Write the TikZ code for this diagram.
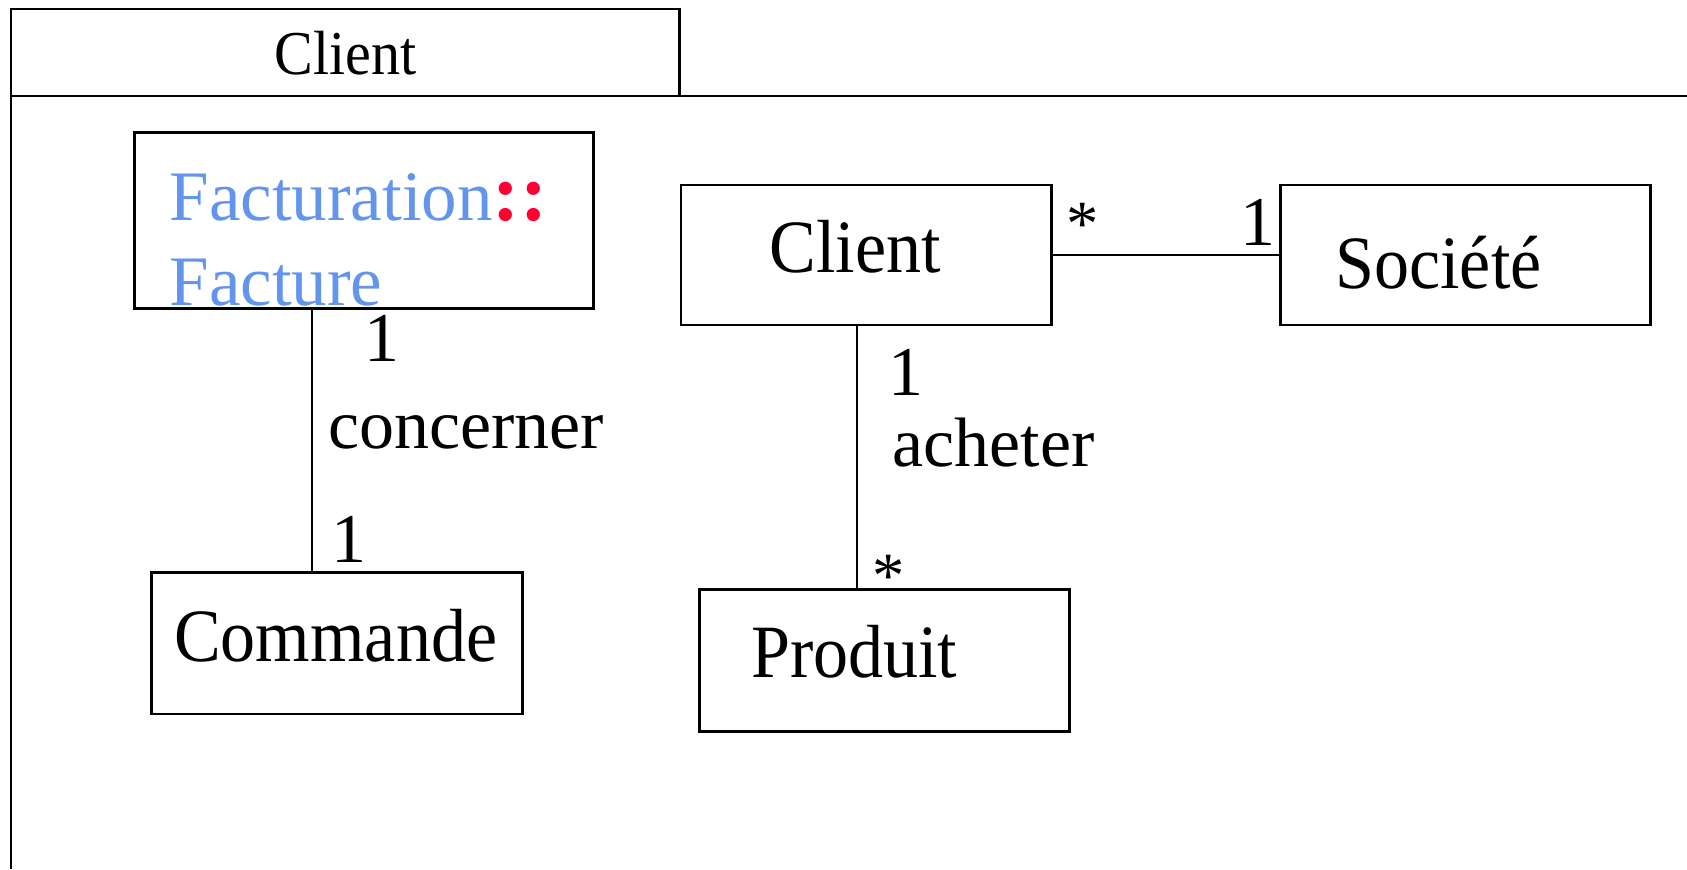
\documentclass[tikz,border=0pt]{standalone}
\usepackage{fontspec}
\setmainfont{Liberation Serif}
\newfontfamily\condfont[FakeStretch=0.93]{Liberation Serif}
\definecolor{factblue}{RGB}{100,149,237}
\definecolor{factred}{RGB}{255,0,51}
\begin{document}
\begin{tikzpicture}[x=1pt,y=-1pt,
  box/.style={draw=black,line width=2.6pt,rectangle,inner sep=0pt,outer sep=0pt},
  assoc/.style={draw=black,line width=1.8pt},
  pkg/.style={draw=black,line width=2.2pt},
  txt/.style={inner sep=0pt,outer sep=0pt,anchor=base west},
  boxname/.style={inner sep=0pt,outer sep=0pt,anchor=base,font=\condfont\fontsize{70}{84}\selectfont},
  mult/.style={inner sep=0pt,outer sep=0pt,anchor=base west,font=\fontsize{65}{78}\selectfont},
  star/.style={inner sep=0pt,outer sep=0pt,anchor=base west,font=\fontsize{60}{72}\selectfont}]
\useasboundingbox (0,0) rectangle (1568,808);
% package
\draw[pkg] (10.4,808) -- (10.4,89) -- (1568,89);
\node[box,line width=2.2pt,minimum width=621pt,minimum height=80.6pt] (tab) at (321,48.7) {};
\node[inner sep=0pt,anchor=base,font=\condfont\fontsize{58}{70}\selectfont] (tabtxt) at (321,69) {Client};
% classes
\node[box,minimum width=427pt,minimum height=163.5pt] (fact) at (338.25,204.75) {};
\node[box,minimum width=344.3pt,minimum height=130pt] (client) at (805.15,237) {};
\node[box,minimum width=344pt,minimum height=130pt] (soc) at (1362,237) {};
\node[box,minimum width=345pt,minimum height=131.7pt] (cmd) at (313.5,597.85) {};
\node[box,minimum width=344pt,minimum height=132pt] (prod) at (822,614) {};
% class names
\node[txt,font=\fontsize{66}{79}\selectfont,text=factblue] (fact1) at (157.6,204.5) {Facturation\textcolor{factred}{\fontsize{76}{80}\selectfont\textbf{::}}};
\node[txt,font=\fontsize{66}{79}\selectfont,text=factblue] (fact2) at (157.6,283.5) {Facture};
\node[boxname] (clienttxt) at (795,253.7) {Client};
\node[boxname] (soctxt) at (1337,268) {Société};
\node[boxname] (cmdtxt) at (312,615) {Commande};
\node[boxname] (prodtxt) at (794,630) {Produit};
% connectors
\coordinate (xa) at (289.7,0);
\coordinate (xb) at (796.6,0);
\draw[assoc] (fact.south -| xa) -- (cmd.north -| xa);
\draw[assoc] (client.south -| xb) -- (prod.north -| xb);
\draw[assoc] (client.east) -- (soc.west);
% labels
\node[mult] (m1) at (338.4,336) {1};
\node[mult] (r1) at (305,416.6) {concerner};
\node[mult] (m2) at (308,523) {1};
\node[mult] (m3) at (826,368) {1};
\node[mult] (r2) at (829.5,434) {acheter};
\node[mult] (m4) at (1153,228) {1};
\node[star] (s1) at (991.6,228) {*};
\node[star] (s2) at (811,555.5) {*};
\end{tikzpicture}
\end{document}
